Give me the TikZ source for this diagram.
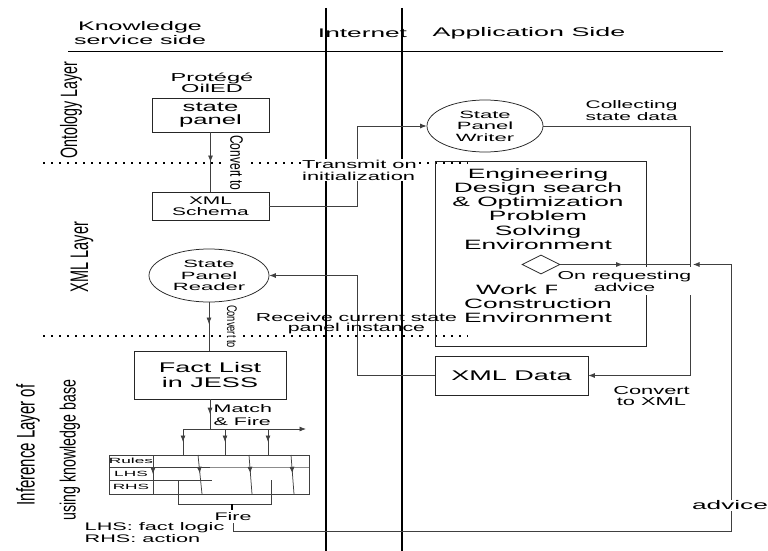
\documentclass[tikz,border=0pt]{standalone}
\usepackage{fontspec}
\setmainfont{Liberation Sans}
\usepackage{graphicx}
\usetikzlibrary{shapes.geometric,arrows.meta,decorations.markings}
\newcommand\sx[2][1.95]{\scalebox{#1}[1]{#2}}
\newcommand\fs[2]{\fontsize{#1}{#2}\selectfont}
\begin{document}
\begin{tikzpicture}[x=1pt,y=-1pt,
  lbl/.style={inner sep=0.5pt, align=center},
  ln/.style={draw=black!75, line width=0.75pt},
  arr/.style={ln, -{Latex[length=6.5pt,width=5pt]}},
  midarr/.style={ln, postaction={decorate}, decoration={markings, mark=at position #1 with {\arrow{Latex[length=6.5pt,width=5pt]}}}},
  sepline/.style={line width=2pt, black},
  dotln/.style={line width=1.3pt, dash pattern=on 2pt off 6pt, black},
  bx/.style={draw=black!85, line width=0.75pt, inner sep=0pt, align=center},
  elp/.style={draw=black!85, line width=0.75pt, ellipse, inner sep=0pt, align=center},
  rotl/.style={inner sep=0.5pt, rotate=90},
]
\fill[white] (0,0) rectangle (768,551);
\useasboundingbox (0,0) rectangle (768,551);

% dotted layer borders
\draw[dotln] (43,163) -- (468,163);
\draw[dotln] (43,336) -- (468,336);

% rotated "Convert to" labels (white background over dotted lines)
\node[lbl, fill=white, rotate=-90, font=\fs{12}{13}, inner ysep=7pt] (cv1) at (236.5,163) {\scalebox{1}[1.5]{Convert to}};
\node[lbl, fill=white, rotate=-90, font=\fs{9.3}{10}, inner ysep=6pt] (cv2) at (232,326.5) {\scalebox{1}[1.5]{Convert to}};

% header
\node[lbl, font=\fs{12.5}{14}] (ks) at (140,33.5) {\sx[2]{Knowledge}\\\sx[2]{service side}};
\node[lbl, font=\fs{12.5}{14}] (inet) at (362.5,33) {\sx[2.1]{Internet}};
\node[lbl, font=\fs{12.5}{14}] (app) at (529,33.5) {\sx[2.15]{Application Side}};
\draw[line width=0.8pt] (68,51) -- (723,51);

% layer labels
\node[rotl, font=\fs{14.3}{15}] (ontl) at (71,110) {\scalebox{1}[1.65]{Ontology Layer}};
\node[rotl, font=\fs{14.5}{15}] (xmll) at (82,257) {\scalebox{1}[1.75]{XML Layer}};
\node[rotl, font=\fs{15}{16}] (infl1) at (28,445) {\scalebox{1}[1.7]{Inference Layer of}};
\node[rotl, font=\fs{14.2}{15}] (infl2) at (70,450) {\scalebox{1}[1.55]{using knowledge base}};

% knowledge side nodes
\node[lbl, font=\fs{11.5}{11}] (protege) at (212,83) {\sx[2.05]{Protégé}\\\sx[2.05]{OilED}};
\node[bx, minimum width=117pt, minimum height=34pt, font=\fs{13.5}{13}] (statepanel) at (210.5,115) {\sx[1.9]{state}\\\sx[1.9]{panel}};
\node[bx, minimum width=117pt, minimum height=28pt, font=\fs{11}{11}] (xmlschema) at (210.5,206) {\sx[1.9]{XML}\\\sx[1.9]{Schema}};
\node[elp, minimum width=120pt, minimum height=53pt, font=\fs{10.5}{11.5}] (reader) at (209,275.5) {\sx[2.1]{State}\\\sx[2.1]{Panel}\\\sx[2.1]{Reader}};
\node[bx, minimum width=152pt, minimum height=48pt, font=\fs{14}{15}] (factlist) at (210,375) {\sx[1.93]{Fact List}\\\sx[1.93]{in JESS}};

% application side nodes
\node[elp, minimum width=116pt, minimum height=52pt, font=\fs{10.5}{11.5}] (writer) at (485,126) {\sx[2.1]{State}\\\sx[2.1]{Panel}\\\sx[2.1]{Writer}};
\node[bx, minimum width=211pt, minimum height=185pt] (engbox) at (540.5,253.5) {};
\node[lbl, font=\fs{13.5}{14.2}] (engtext) at (538,209) {\sx{Engineering}\\\sx{Design search}\\\sx{\& Optimization}\\\sx{Problem}\\\sx{Solving}\\\sx{Environment}};
\node[lbl, font=\fs{13.5}{14.2}] (worktext) at (538,303.5) {\sx{Work Flow}\\\sx{Construction}\\\sx{Environment}};
\node[draw=black!85, line width=0.75pt, diamond, shape aspect=2, minimum width=38pt, minimum height=19pt, inner sep=0pt] (dia) at (541,264.5) {};
\node[bx, minimum width=153pt, minimum height=39pt, font=\fs{14}{15}] (xmldata) at (511.5,375.5) {\sx[1.93]{XML Data}};

% separators
\draw[sepline] (326,8) -- (326,551);
\draw[sepline] (402,8) -- (402,551);

% connectors
\draw[midarr=0.5] (statepanel.south) -- (xmlschema.north);
\draw[arr] (xmlschema.east) -- (357,206) -- (357,126) -- (writer.west);
\draw[arr] (writer.east) -- (690,126) -- (690,375.5) -- (xmldata.east);
\draw[arr] (xmldata.west) -- (357,375.5) -- (357,275.5) -- (reader.east);
\draw[midarr=0.45] (reader.south) -- (reader.south |- factlist.north);
\draw[midarr=0.48] (dia.east) -- (690,264.5);

% inference structure
\coordinate (b1) at (183,429);
\coordinate (b2) at (225,429);
\coordinate (b3) at (268,429);
\coordinate (bend) at (306,429);
\draw[midarr=0.5] (factlist.south) -- (factlist.south |- b1);
\draw[arr] (b1) -- (bend);
\draw[midarr=0.5] (b1) -- (183,455);
\draw[midarr=0.5] (b2) -- (225,455);
\draw[midarr=0.5] (b3) -- (268,455);
\draw[ln] (109,455) rectangle (309,494);
\draw[ln] (109,467) -- (210,467);
\draw[draw=black!45, line width=0.75pt] (210,467) -- (309,467);
\draw[ln] (109,480) -- (212,480);
\draw[midarr=0.49] (153,455) -- (153,494);
\draw[midarr=0.47] (198,455) -- (202,494);
\draw[midarr=0.47] (249,455) -- (252,494);
\draw[midarr=0.47] (291,455) -- (294,494);
\node[lbl, font=\fs{7.5}{8}] (rules) at (131,461) {\sx[2.3]{Rules}};
\node[lbl, font=\fs{7.5}{8}] (lhs) at (131,473.5) {\sx[2.3]{LHS}};
\node[lbl, font=\fs{7.5}{8}] (rhs) at (131,487) {\sx[2.3]{RHS}};
\draw[ln] (178,480) -- (178,504) -- (271,504) -- (271,480);
\draw[line width=2pt] (232,504) -- (232,510);

% advice path
\coordinate (adv0) at (233,523);
\draw[arr] (adv0) -- (233,531) -- (731,531) -- (731,264.5) -- (693,264.5);

% labels with white background
\node[lbl, fill=white, inner sep=1pt, align=left, anchor=west, font=\fs{11.5}{12}] (transmit) at (301,170) {\sx[1.9]{Transmit on}\\\sx[1.9]{initialization}};
\node[lbl, fill=white, inner xsep=1pt, inner ysep=3.5pt, font=\fs{11.5}{12}] (onreq) at (624.5,281) {\sx[1.85]{On requesting}\\\sx[1.85]{advice}};
\node[lbl, fill=white, inner sep=1pt, font=\fs{12.5}{13}] (advice) at (730,505.5) {\sx[2.1]{advice}};

% plain labels
\node[lbl, align=left, anchor=west, font=\fs{11}{12}] (collect) at (585,110.5) {\sx[1.9]{Collecting}\\\sx[1.9]{state data}};
\node[lbl, font=\fs{11.5}{10.5}] (receive) at (356.5,323.5) {\sx[1.85]{Receive current state}\\\sx[1.85]{panel instance}};
\node[lbl, font=\fs{11.5}{11}] (convxml) at (651.5,396.5) {\sx[1.9]{Convert}\\\sx[1.9]{to XML}};
\node[lbl, align=left, anchor=west, font=\fs{11}{13}] (match) at (213,415) {\sx{Match}\\\sx{\& Fire}};
\node[lbl, font=\fs{11}{12}] (fire) at (233,517) {\sx{Fire}};
\node[lbl, align=left, anchor=west, font=\fs{11}{12}] (legend) at (84,532.5) {\sx[1.97]{LHS: fact logic}\\\sx[1.97]{RHS: action}};
\end{tikzpicture}
\end{document}
